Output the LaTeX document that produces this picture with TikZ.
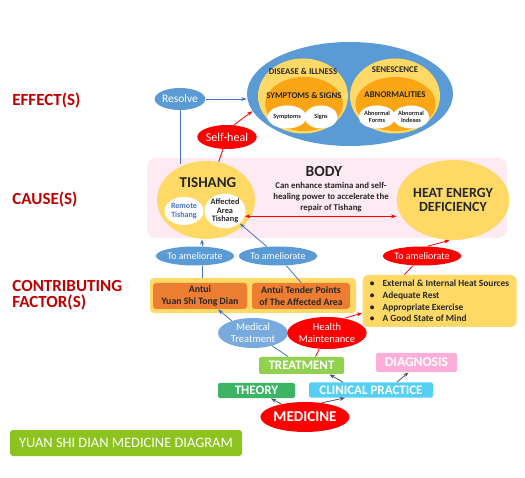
\documentclass[tikz,border=0pt]{standalone}
\usepackage{fontspec}
\setmainfont{Carlito}
\usepackage{tikz}
\usetikzlibrary{arrows.meta, shapes.geometric}
\definecolor{effblue}{RGB}{91,155,213}
\definecolor{lightblue}{RGB}{120,170,222}
\definecolor{arrowblue}{RGB}{68,114,196}
\definecolor{soft}{RGB}{255,217,102}
\definecolor{deep}{RGB}{250,165,20}
\definecolor{antuiorange}{RGB}{237,125,49}
\definecolor{bodypink}{RGB}{253,234,242}
\definecolor{darktext}{RGB}{38,38,38}
\definecolor{rowred}{RGB}{192,0,0}
\definecolor{treatgreen}{RGB}{146,208,80}
\definecolor{theorygreen}{RGB}{60,180,100}
\definecolor{clinicblue}{RGB}{86,207,245}
\definecolor{diagpink}{RGB}{255,175,215}
\definecolor{titlegreen}{RGB}{140,195,30}
\definecolor{slate}{RGB}{68,84,106}
\newcommand{\fsz}[2]{\fontsize{#1}{#2}\selectfont}
\tikzset{>={Stealth[scale=0.8]}}
\tikzset{
  blob/.style={ellipse, inner sep=0pt},
  tag/.style={blob, fill=effblue, text=white, font=\fsz{10}{11}, minimum width=68pt, minimum height=19pt},
  headtxt/.style={inner sep=0pt, text=darktext, font=\bfseries\fsz{8.8}{9}},
  smalltxt/.style={blob, fill=white, text=darktext, align=center, font=\bfseries\fsz{6.3}{7}, minimum width=33pt, minimum height=23pt},
  antuibox/.style={rectangle, rounded corners=3pt, fill=antuiorange, text=darktext, inner sep=0pt, align=center, font=\bfseries\fsz{9.8}{11.5}, minimum width=94pt, minimum height=26pt},
  box/.style={rectangle, rounded corners=2pt, inner sep=0pt, text=white, font=\bfseries\fsz{13}{14}},
  rowlabel/.style={anchor=west, inner sep=0pt, text=rowred, align=left, font=\bfseries\fsz{17}{16}},
}

\begin{document}
\begin{tikzpicture}[x=1pt, y=-1pt, line width=0.8pt]
\useasboundingbox (0,0) rectangle (525,478);

% row labels
\node[rowlabel] (effectrow) at (12,100) {EFFECT(S)};
\node[rowlabel] (causerow) at (12,199) {CAUSE(S)};
\node[rowlabel] (factorrow) at (12,295) {CONTRIBUTING\\FACTOR(S)};

% effects
\node[blob, fill=effblue, minimum width=206pt, minimum height=104pt] (effects) at (350,94) {};
\node[blob, fill=soft, minimum width=90pt, minimum height=75pt] (disease) at (303,96) {};
\node[blob, fill=deep, minimum width=78pt, minimum height=54pt] (symsigns) at (304,104) {};
\node[smalltxt] (symptoms) at (287,117) {Symptoms};
\node[smalltxt] (signs) at (321,117) {Signs};
\node[headtxt] (diseasetxt) at (303,71) {DISEASE \& ILLNESS};
\node[headtxt] (symsignstxt) at (304,95) {SYMPTOMS \& SIGNS};
\node[blob, fill=soft, minimum width=90pt, minimum height=75pt] (senescence) at (395,96) {};
\node[blob, fill=deep, minimum width=80pt, minimum height=54pt] (abnormal) at (395.5,104) {};
\node[smalltxt] (forms) at (377,117) {Abnormal\\Forms};
\node[smalltxt] (indexes) at (411,117) {Abnormal\\Indexes};
\node[headtxt] (senescencetxt) at (395,70) {SENESCENCE};
\node[headtxt] (abnormaltxt) at (395,95) {ABNORMALITIES};

\node[tag, minimum width=46pt, minimum height=22pt, font=\fsz{11.5}{12}] (resolve) at (180,99) {Resolve};
\node[tag, fill=red, minimum width=52pt, minimum height=24pt, font=\fsz{12}{12}] (selfheal) at (227,137) {Self-heal};

% body
\node[rectangle, rounded corners=9pt, fill=bodypink, minimum width=360pt, minimum height=80pt] (body) at (327,198) {};
\node[text=darktext, font=\bfseries\fsz{15.5}{16}] (bodytxt) at (324,171) {BODY};
\node[text=darktext, align=center, font=\bfseries\fsz{8.8}{11}] (bodynote) at (331,197) {Can enhance stamina and self-\\healing power to accelerate the\\repair of Tishang};
\node[blob, fill=soft, minimum width=98pt, minimum height=78pt] (tishang) at (206,200) {};
\node[text=darktext, font=\bfseries\fsz{15}{16}] (tishangtxt) at (208,183) {TISHANG};
\node[smalltxt, text=arrowblue, minimum width=39pt, minimum height=28pt, font=\bfseries\fsz{8}{9}] (remote) at (184,211) {Remote\\Tishang};
\node[smalltxt, minimum width=38pt, minimum height=31pt, font=\bfseries\fsz{8.3}{8.6}] (affected) at (225,211) {Affected\\Area\\Tishang};
\node[blob, fill=soft, text=darktext, align=center, minimum width=89pt, minimum height=80pt, font=\bfseries\fsz{14}{14}] (heat) at (453,200) {HEAT ENERGY\\DEFICIENCY};

% contributing factors
\node[tag] (ameliorate1) at (195,256) {To ameliorate};
\node[tag] (ameliorate2) at (278,256) {To ameliorate};
\node[tag, fill=red] (ameliorate3) at (422,256) {To ameliorate};
\node[rectangle, rounded corners=4pt, fill=soft, minimum width=206pt, minimum height=35pt] (antui) at (253,295.5) {};
\node[antuibox] (tongdian) at (200,296) {Antui\\Yuan Shi Tong Dian};
\node[antuibox, minimum width=98pt] (tender) at (301,296) {Antui Tender Points\\of The Affected Area};
\node[rectangle, rounded corners=6pt, fill=soft, text=darktext, inner sep=0pt, align=left, minimum width=154pt, minimum height=52pt, font=\bfseries\fsz{9.4}{11.7}] (sources) at (439.5,301) {%
\textbullet\hspace{8pt}External \& Internal Heat Sources\\
\textbullet\hspace{8pt}Adequate Rest\\
\textbullet\hspace{8pt}Appropriate Exercise\\
\textbullet\hspace{8pt}A Good State of Mind};

% medicine
\node[tag, fill=lightblue, align=center, minimum width=70pt, minimum height=30pt, font=\fsz{10.5}{12}] (medical) at (253,333) {Medical\\Treatment};
\node[tag, fill=red, align=center, minimum width=70pt, minimum height=32pt, font=\fsz{10.5}{12}] (health) at (327,333) {Health\\Maintenance};
\node[box, fill=treatgreen, minimum width=85pt, minimum height=17pt] (treatment) at (301.5,365.5) {TREATMENT};
\node[box, fill=diagpink, minimum width=81pt, minimum height=19pt, font=\bfseries\fsz{13.5}{14}] (diagnosis) at (416.5,362.5) {DIAGNOSIS};
\node[box, fill=theorygreen, minimum width=77pt, minimum height=15pt] (theory) at (256.5,390.5) {THEORY};
\node[box, fill=clinicblue, minimum width=124pt, minimum height=15pt] (clinical) at (371,390) {CLINICAL PRACTICE};
\node[blob, fill=red, text=white, minimum width=80pt, minimum height=30pt, font=\bfseries\fsz{15}{16}] (medicine) at (305,417) {MEDICINE};

\node[rectangle, rounded corners=3pt, fill=titlegreen, text=white, minimum width=232pt, minimum height=26pt, font=\fsz{14.4}{15}] (title) at (126,443) {YUAN SHI DIAN MEDICINE DIAGRAM};

% connectors
\draw[->, arrowblue] (resolve) -- (resolve -| effects.west);
\draw[arrowblue] (resolve) -- (resolve |- tishang.120);
\draw[->, red] (selfheal.60) -- (effects.190);
\draw[red] (selfheal) -- (tishang);
\draw[<->, red] (affected.-15) -- (affected.-15 -| heat.west);
\draw[->, arrowblue] ([xshift=7pt]ameliorate1.north) -- ([xshift=7pt]ameliorate1.north |- tishang.south);
\draw[arrowblue] ([xshift=7pt]ameliorate1.south) -- ([xshift=7pt]ameliorate1.south |- antui.north);
\draw[->, arrowblue] (ameliorate2) -- (affected);
\draw[arrowblue] (tender.north) -- (ameliorate2);
\draw[->, red] (ameliorate3.60) -- (heat.-95);
\draw[red] ([xshift=-35pt]sources.north) -- (ameliorate3);
\draw[->, arrowblue] (medical.150) -- ([xshift=18pt]tongdian.south);
\draw[->, red] (health.40) -- ([yshift=-12pt]sources.west);
\draw[arrowblue] (medical) -- (treatment);
\draw[red] (health) -- ([xshift=14pt]treatment.north);
\draw[->, slate] (medicine) -- (theory);
\draw[->, slate] (medicine.40) -- ([xshift=-26pt]clinical.south);
\draw[->, slate] ([xshift=-28pt]clinical.north) -- ([xshift=28pt]treatment.south);
\draw[->, slate] ([xshift=26pt]clinical.north) -- ([xshift=-8pt]diagnosis.south);
\end{tikzpicture}
\end{document}
